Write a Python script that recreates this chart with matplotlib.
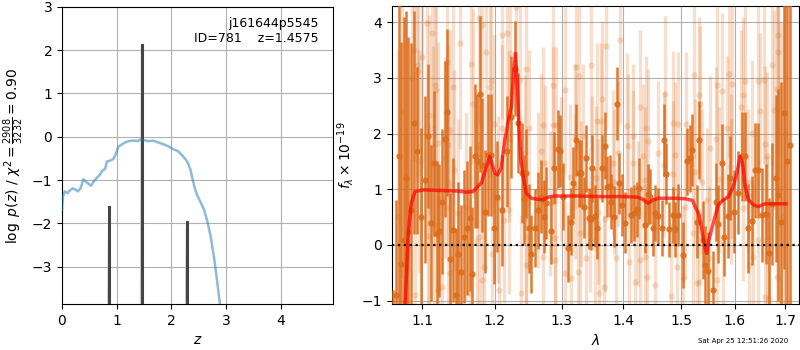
import numpy as np
import matplotlib
matplotlib.use("Agg")
import matplotlib.pyplot as plt
from matplotlib.ticker import FixedLocator, FixedFormatter, NullLocator

# ---------------- left panel data: log p(z) ----------------
z_curve = [0.0, 0.018, 0.05, 0.10, 0.14, 0.20, 0.245, 0.29, 0.34, 0.39, 0.45, 0.53, 0.59,
           0.65, 0.69, 0.74, 0.79, 0.82, 0.88, 0.94, 0.98, 1.03, 1.09, 1.17, 1.25, 1.34,
           1.39, 1.43, 1.51, 1.58, 1.66, 1.74, 1.83, 1.95, 2.04, 2.12, 2.20, 2.29, 2.35,
           2.39, 2.43, 2.47, 2.53, 2.60, 2.66, 2.72, 2.78, 2.84, 2.89, 2.95]
logp_curve = [-1.69, -1.38, -1.26, -1.30, -1.24, -1.19, -1.22, -1.26, -1.19, -0.98, -1.05,
              -1.13, -1.01, -0.93, -0.88, -0.78, -0.74, -0.57, -0.55, -0.51, -0.41, -0.23,
              -0.18, -0.12, -0.09, -0.09, -0.10, -0.06, -0.08, -0.10, -0.09, -0.12, -0.16,
              -0.22, -0.29, -0.33, -0.43, -0.57, -0.76, -0.99, -1.19, -1.34, -1.50, -1.69,
              -1.96, -2.31, -2.78, -3.36, -3.88, -4.5]
peak_z = [0.86, 1.4575, 2.28]
peak_logp = [-1.62, 2.13, -1.96]
chi2_num, chi2_den = 2908, 3232

# ---------------- right panel data: spectrum ----------------
dark_wave = [1.0626, 1.0665, 1.0695, 1.0723, 1.0761, 1.0790, 1.0817, 1.0856, 1.0890, 1.0934,
             1.0980, 1.1036, 1.1080, 1.1120, 1.1160, 1.1195, 1.1226, 1.1266, 1.1300, 1.1334,
             1.1370, 1.1415, 1.1460, 1.1480, 1.1516, 1.1562, 1.1608, 1.1645, 1.1682, 1.1715,
             1.1748, 1.1785, 1.1823, 1.1860, 1.1903, 1.1941, 1.1990, 1.2032, 1.2110, 1.2170,
             1.2230, 1.2290, 1.2340, 1.2390, 1.2430, 1.2460, 1.2500, 1.2537, 1.2590, 1.2640,
             1.2690, 1.2730, 1.2760, 1.2830, 1.2880, 1.2940, 1.2970, 1.3020, 1.3100, 1.3150,
             1.3180, 1.3220, 1.3270, 1.3300, 1.3350, 1.3390, 1.3430, 1.3460, 1.3480, 1.3525,
             1.3570, 1.3640, 1.3700, 1.3720, 1.3770, 1.3800, 1.3850, 1.3890, 1.3930, 1.3970,
             1.4030, 1.4120, 1.4180, 1.4230, 1.4270, 1.4360, 1.4420, 1.4450, 1.4510, 1.4545,
             1.4600, 1.4660, 1.4700, 1.4740, 1.4790, 1.4850, 1.4890, 1.4950, 1.5040, 1.5100,
             1.5160, 1.5200, 1.5290, 1.5330, 1.5392, 1.5440, 1.5500, 1.5590, 1.5637, 1.5686,
             1.5750, 1.5800, 1.5866, 1.5910, 1.5980, 1.6060, 1.6135, 1.6187, 1.6250, 1.6330,
             1.6395, 1.6450, 1.6527, 1.6600, 1.6670, 1.6730, 1.6800, 1.6860, 1.6910, 1.6980,
             1.7040, 1.7098]
dark_flux = [-1.8, -0.9, 1.6, -0.35, 0.09, 1.2, 0.24, 0.62, 2.2, 1.69,
             0.5, 1.17, 1.96, 0.4, 1.47, 0.2, 0.26, 0.78, 1.9, 2.38,
             -0.26, 0.27, -0.90, -0.16, -0.48, 0.15, 0.30, 0.48, -0.52, 1.60,
             1.51, 2.71, 1.44, 0.6, 1.62, 1.62, 0.3, 0.87, 0.62, 1.68,
             2.3, 3.17, 2.19, 1.3, 0.82, 1.29, 0.3, -0.16, 0.3, 0.62,
             0.87, 0.51, 0.75, 0.26, 1.38, 1.72, 1.69, 0.87, -0.06, 0.42,
             1.11, 1.89, 1.29, 1.29, 0.68, 1.56, 0.48, 0.46, 1.38, 0.52,
             0.30, 1.38, 1.78, 1.05, 1.06, 0.78, 0.51, 2.54, 1.11, 0.72,
             0.4, 0.54, 0.57, 0.64, 1.02, 0.36, 0.91, 0.87, 0.30, 0.58,
             0.52, 0.30, 1.89, 1.28, 0.28, 0.54, 0.28, 0.54, -0.18, 1.50,
             1.56, 1.71, 0.42, 1.89, 0.09, -0.36, -0.46, -0.80, 0.78, 0.38,
             1.48, 0.14, 0.52, 1.20, 0.6, 0.94, 1.59, 1.59, 0.3, 0.44,
             1.34, 1.34, 0.54, 0.55, -0.15, 0.74, 1.2, 0.9, 0.42, 2.37,
             1.5, 1.8]
dark_err = [1.0, 1.7, 3.5, 4.0, 4.0, 3.0, 3.5, 3.0, 2.0, 1.5,
            1.6, 1.5, 1.3, 1.4, 1.3, 1.3, 1.2, 1.3, 1.4, 1.5,
            1.2, 1.3, 1.2, 1.3, 1.2, 1.2, 1.2, 1.3, 1.2, 1.3,
            1.2, 1.4, 1.2, 1.1, 1.1, 1.1, 1.0, 1.0, 1.0, 1.0,
            1.1, 0.85, 0.9, 0.9, 0.8, 0.8, 0.8, 0.7, 0.7, 0.7,
            0.65, 0.65, 0.65, 0.6, 0.65, 0.7, 0.65, 0.6, 0.6, 0.6,
            0.65, 0.65, 0.6, 0.6, 0.55, 0.6, 0.55, 0.55, 0.6, 0.55,
            0.55, 0.6, 0.6, 0.55, 0.55, 0.5, 0.55, 0.65, 0.55, 0.55,
            0.55, 0.5, 0.5, 0.5, 0.55, 0.5, 0.55, 0.5, 0.5, 0.5,
            0.5, 0.5, 0.65, 0.55, 0.5, 0.5, 0.5, 0.55, 0.6, 0.6,
            0.6, 0.65, 0.65, 0.7, 0.7, 0.7, 0.7, 0.7, 0.7, 0.7,
            0.7, 0.7, 0.75, 0.75, 0.75, 0.75, 0.8, 0.8, 0.8, 0.8,
            0.85, 0.85, 0.85, 0.9, 1.0, 1.1, 1.5, 1.9, 2.5, 2.8,
            3.5, 4.5]

light_wave = [1.0680, 1.0730, 1.0790, 1.0860, 1.0890, 1.0905, 1.0925, 1.0940, 1.0960, 1.1000,
              1.1060, 1.1070, 1.1090, 1.1095, 1.1125, 1.1145, 1.1150, 1.1170, 1.1180, 1.1210,
              1.1213, 1.1260, 1.1300, 1.1334, 1.1340, 1.1350, 1.1370, 1.1375, 1.1415, 1.1420,
              1.1480, 1.1507, 1.1589, 1.1645, 1.1655, 1.1690, 1.1750, 1.1775, 1.1780, 1.1810,
              1.1817, 1.1850, 1.1870, 1.1927, 1.1950, 1.1955, 1.1990, 1.2050, 1.2055, 1.2100,
              1.2110, 1.2135, 1.2170, 1.2200, 1.2210, 1.2215, 1.2310, 1.2370, 1.2375, 1.2438,
              1.2450, 1.2455, 1.2460, 1.2505, 1.2640, 1.2680, 1.2710, 1.2715, 1.2738, 1.2815,
              1.2865, 1.2870, 1.2891, 1.2895, 1.2920, 1.2995, 1.3047, 1.3050, 1.3125, 1.3150,
              1.3204, 1.3210, 1.3228, 1.3256, 1.3280, 1.3285, 1.3310, 1.3330, 1.3390, 1.3445,
              1.3465, 1.3480, 1.3525, 1.3550, 1.3557, 1.3580, 1.3590, 1.3630, 1.3650, 1.3680,
              1.3700, 1.3710, 1.3825, 1.3850, 1.3880, 1.3905, 1.3935, 1.4060, 1.4070, 1.4100,
              1.4160, 1.4165, 1.4190, 1.4245, 1.4275, 1.4280, 1.4330, 1.4360, 1.4365, 1.4390,
              1.4395, 1.4420, 1.4545, 1.4590, 1.4690, 1.4710, 1.4820, 1.4860, 1.4865, 1.4894,
              1.4920, 1.4940, 1.5045, 1.5075, 1.5087, 1.5220, 1.5230, 1.5256, 1.5290, 1.5320,
              1.5330, 1.5350, 1.5380, 1.5470, 1.5510, 1.5540, 1.5640, 1.5660, 1.5665, 1.5700,
              1.5750, 1.5780, 1.5850, 1.5880, 1.5920, 1.5925, 1.5940, 1.6120, 1.6150, 1.6167,
              1.6190, 1.6260, 1.6265, 1.6340, 1.6345, 1.6455, 1.6460, 1.6490, 1.6560, 1.6580,
              1.6590, 1.6620, 1.6625, 1.6670, 1.6730, 1.6760, 1.6826, 1.6830, 1.6846, 1.6850,
              1.6900, 1.6950, 1.7000]
light_flux = [0.5, 2.4, -0.4, 3.0, 3.51, -0.90, 3.23, 3.13, 1.50, 3.37,
              3.99, 0.16, 2.34, 0.40, 3.80, 1.78, 0.36, 2.87, 2.78, -0.81,
              1.84, -0.76, 1.57, 3.28, 0.66, 1.80, 2.07, -0.51, 2.84, 1.35,
              0.57, 3.62, 0.69, -0.87, 3.25, 2.54, 0.08, 0.15, 4.07, 3.95,
              -0.63, -0.39, 3.46, 2.83, 2.95, -0.16, 2.17, 0.81, -0.80, 2.10,
              3.77, 0.45, 3.80, 0.62, 1.92, 3.44, 4.27, 2.96, -0.87, 1.65,
              -0.36, 0.15, 3.16, 2.10, 0.99, 1.68, 2.16, -0.21, 1.47, 0.75,
              2.87, 2.16, 0.12, -0.27, 2.16, 1.36, 2.78, -0.51, 1.23, -0.60,
              1.95, 1.05, 3.20, -0.48, 3.04, 0.21, 0.93, 1.95, -0.24, 0.45,
              3.23, 1.38, 0.09, 1.20, 2.22, 0.60, -0.87, 2.22, 2.63, -0.76,
              0.46, 3.57, 1.48, 1.14, -0.24, 1.65, 3.68, 2.14, 1.77, -0.30,
              1.95, 1.48, -0.66, 0.57, 2.47, -0.27, 1.60, 1.17, -0.21, 2.10,
              -0.58, 1.86, -0.72, 1.65, 1.44, 2.72, -0.92, 1.28, 2.19, 1.62,
              -0.39, 2.17, -0.60, 0.69, 2.17, 0.21, 3.05, 1.32, -0.69, -0.66,
              2.69, 2.53, 1.14, 0.81, -0.24, 1.74, 1.90, 2.87, -0.63, 1.18,
              2.77, 0.06, 2.10, 3.08, 1.41, 0.96, 2.89, 2.47, 2.69, 0.66,
              2.94, 1.14, -0.36, 2.02, -0.21, 0.09, 2.95, 2.40, 2.96, -0.93,
              1.81, 1.60, 0.09, -0.95, 3.23, 2.43, 2.81, -0.57, 3.77, 3.47,
              1.0, 0.5, 2.0]
light_err = [3.0, 3.0, 2.5, 2.2, 2.0, 1.8, 2.0, 2.0, 2.0, 2.0,
             2.0, 1.8, 1.8, 1.8, 2.0, 1.8, 1.8, 1.8, 1.8, 1.7,
             1.8, 1.7, 1.8, 1.8, 1.8, 1.8, 1.8, 1.7, 1.8, 1.8,
             1.7, 1.9, 1.7, 1.7, 1.8, 1.7, 1.7, 1.7, 1.9, 1.9,
             1.6, 1.6, 1.8, 1.6, 1.6, 1.6, 1.6, 1.5, 1.5, 1.5,
             1.5, 1.5, 1.6, 1.5, 1.5, 1.6, 1.6, 1.5, 1.4, 1.4,
             1.4, 1.4, 1.5, 1.4, 1.4, 1.4, 1.4, 1.3, 1.4, 1.3,
             1.5, 1.4, 1.3, 1.3, 1.4, 1.3, 1.5, 1.3, 1.3, 1.3,
             1.3, 1.3, 1.5, 1.3, 1.5, 1.3, 1.3, 1.3, 1.3, 1.3,
             1.5, 1.3, 1.3, 1.3, 1.4, 1.3, 1.3, 1.4, 1.4, 1.3,
             1.3, 1.5, 1.3, 1.3, 1.3, 1.3, 1.5, 1.3, 1.3, 1.3,
             1.3, 1.3, 1.3, 1.3, 1.4, 1.3, 1.3, 1.3, 1.3, 1.3,
             1.3, 1.3, 1.3, 1.3, 1.3, 1.4, 1.3, 1.3, 1.3, 1.3,
             1.3, 1.3, 1.3, 1.3, 1.3, 1.3, 1.5, 1.3, 1.3, 1.3,
             1.4, 1.4, 1.3, 1.3, 1.3, 1.3, 1.3, 1.4, 1.3, 1.3,
             1.4, 1.3, 1.3, 1.5, 1.3, 1.3, 1.4, 1.4, 1.4, 1.3,
             1.4, 1.3, 1.3, 1.3, 1.3, 1.4, 1.5, 1.4, 1.5, 1.4,
             1.4, 1.5, 1.5, 1.5, 1.8, 1.8, 2.0, 2.0, 2.2, 2.2,
             3.0, 3.5, 3.5]

model_wave = [1.0774, 1.0795, 1.0817, 1.0856, 1.0905, 1.1015, 1.1460, 1.1600, 1.1690, 1.1735,
              1.1810, 1.1880, 1.1927, 1.1970, 1.2000, 1.2040, 1.2090, 1.2145, 1.2190, 1.2240,
              1.2280, 1.2301, 1.2330, 1.2350, 1.2380, 1.2415, 1.2460, 1.2537, 1.2640, 1.2710,
              1.2790, 1.2890, 1.3256, 1.3607, 1.4020, 1.4240, 1.4330, 1.4420, 1.4510, 1.4600,
              1.4890, 1.5075, 1.5210, 1.5256, 1.5330, 1.5390, 1.5440, 1.5470, 1.5510, 1.5590,
              1.5686, 1.5780, 1.5880, 1.5970, 1.6040, 1.6100, 1.6150, 1.6200, 1.6265, 1.6360,
              1.6460, 1.6590, 1.6793, 1.7010]
model_flux = [-1.1, -0.5, 0.21, 0.75, 0.96, 0.99, 0.97, 0.95, 0.96, 1.02,
              1.12, 1.41, 1.59, 1.41, 1.29, 1.26, 1.38, 1.89, 2.19, 2.49,
              3.20, 3.44, 2.84, 2.19, 1.53, 1.23, 0.93, 0.84, 0.82, 0.81,
              0.86, 0.88, 0.88, 0.87, 0.87, 0.86, 0.82, 0.75, 0.81, 0.84,
              0.84, 0.83, 0.80, 0.69, 0.54, 0.21, -0.06, -0.15, 0.09, 0.39,
              0.72, 0.81, 0.87, 1.05, 1.29, 1.59, 1.47, 1.05, 0.81, 0.72,
              0.69, 0.74, 0.74, 0.74]

xticks_right = [1.1, 1.2, 1.3, 1.4, 1.5, 1.6, 1.7]
xtick_labels_right = ['1.1', '1.2', '1.3', '1.4', '1.5', '1.6', '1.7']

orange = '#dc6d1c'

fig = plt.figure(figsize=(8, 3.5), dpi=100)
ax1 = fig.add_axes([0.0775, 0.1314, 0.339, 0.849])
ax2 = fig.add_axes([0.4896, 0.1314, 0.509, 0.851])

# ---- left panel ----
ax1.plot(z_curve, logp_curve, color='#1f77b4', alpha=0.5, lw=1.8, zorder=4)
for zc, lp in zip(peak_z, peak_logp):
    ax1.plot([zc - 0.025, zc - 0.006, zc, zc + 0.006, zc + 0.025],
             [-4.0, lp - 0.05, lp, lp - 0.05, -4.0], color='0.8', lw=0.8, zorder=3)
    ax1.plot([zc, zc], [-4.0, lp], color='0.27', lw=2.2, zorder=3)
ax1.set_xlim(0, 4.96)
ax1.set_ylim(-3.86, 3.0)
ax1.set_yticks([-3, -2, -1, 0, 1, 2, 3])
ax1.set_xticks([0, 1, 2, 3, 4])
ax1.grid(True, color='#b0b0b0', lw=0.8)
ax1.set_xlabel(r'$z$')
ax1.set_ylabel(r'$\log\ p(z)$' + ' / ' +
               r'$\chi^2=\frac{%d}{%d}=%.2f$' % (chi2_num, chi2_den, chi2_num / chi2_den))
ax1.text(0.945, 0.965, 'j161644p5545\nID=781    z=1.4575', transform=ax1.transAxes,
         ha='right', va='top', fontsize=9, multialignment='right')

# ---- right panel ----
ax2.set_xscale('log')
ax2.errorbar(light_wave, light_flux, yerr=light_err, fmt='o', color=orange, alpha=0.22,
             ms=4.5, mew=0, elinewidth=2.4, capsize=0, zorder=2)
ax2.errorbar(dark_wave, dark_flux, yerr=dark_err, fmt='o', color=orange, alpha=0.9,
             ms=4.5, mew=0, elinewidth=1.8, capsize=0, zorder=3)
ax2.plot(model_wave, model_flux, color='red', alpha=0.7, lw=2.5, zorder=5)
ax2.axhline(0, color='k', linestyle=':', lw=1.6, zorder=6)
ax2.set_xlim(1.0604, 1.7277)
ax2.set_ylim(-1.06, 4.29)
ax2.xaxis.set_major_locator(FixedLocator(xticks_right))
ax2.xaxis.set_major_formatter(FixedFormatter(xtick_labels_right))
ax2.xaxis.set_minor_locator(NullLocator())
ax2.set_yticks([-1, 0, 1, 2, 3, 4])
ax2.grid(True, color='#b0b0b0', lw=0.8)
ax2.set_xlabel(r'$\lambda$')
ax2.set_ylabel(r'$f_\lambda\times10^{-19}$')

fig.text(0.985, 0.025, 'Sat Apr 25 12:51:26 2020', ha='right', va='center', fontsize=5)

fig.savefig('out.png', dpi=100)
